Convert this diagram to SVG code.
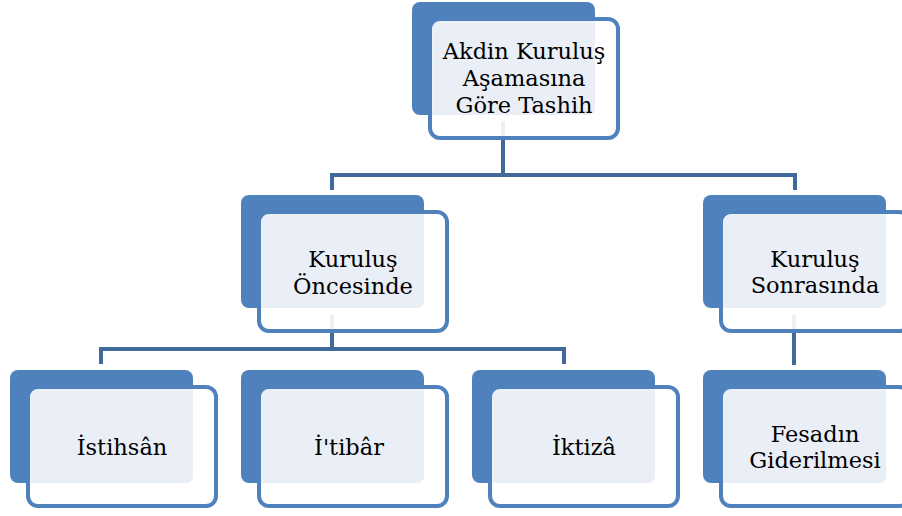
<svg xmlns="http://www.w3.org/2000/svg" xmlns:xlink="http://www.w3.org/1999/xlink" width="902" height="516" viewBox="0 0 902 516">
<style>
.back{fill:#4F81BD}
.front{fill:#FFFFFF;fill-opacity:0.9;stroke:#4F81BD;stroke-width:4}
.light{fill:#EAEFF7}
.conn{fill:none;stroke:#41699B;stroke-width:4}
text{font-family:"DejaVu Serif","Liberation Serif",serif;font-size:22.5px;fill:#000;text-anchor:middle}
</style>
<defs>
<g id="card">
<rect class="back" x="0" y="0" width="183" height="113" rx="8"/>
<rect class="front" x="18" y="17" width="188" height="119" rx="10"/>
<path class="light" d="M28,20 H183 V106 A7,7 0 0 1 176,113 H21 V27 A7,7 0 0 1 28,20 Z"/>
</g>
</defs>
<rect width="902" height="516" fill="#FFFFFF"/>
<g id="connectors">
<path class="conn" d="M503,122 V175"/>
<path class="conn" d="M332,190 V175 H795 V190"/>
<path class="conn" d="M332,315 V349"/>
<path class="conn" d="M101,364 V349 H564 V364"/>
<path class="conn" d="M794,315 V365"/>
</g>
<g id="node-root">
<use xlink:href="#card" x="412" y="2"/>
<text x="524" y="59">Akdin Kuruluş</text>
<text x="524" y="86">Aşamasına</text>
<text x="524" y="113">Göre Tashih</text>
</g>
<g id="node-oncesinde">
<use xlink:href="#card" x="241" y="195"/>
<text x="353" y="267">Kuruluş</text>
<text x="353" y="294">Öncesinde</text>
</g>
<g id="node-sonrasinda">
<use xlink:href="#card" x="703" y="195"/>
<text x="815" y="267">Kuruluş</text>
<text x="815" y="293">Sonrasında</text>
</g>
<g id="node-istihsan">
<use xlink:href="#card" x="10" y="370"/>
<text x="122" y="455">İstihsân</text>
</g>
<g id="node-itibar">
<use xlink:href="#card" x="241" y="370"/>
<text x="349" y="455">İ'tibâr</text>
</g>
<g id="node-iktiza">
<use xlink:href="#card" x="472" y="370"/>
<text x="584" y="455">İktizâ</text>
</g>
<g id="node-fesadin">
<use xlink:href="#card" x="703" y="370"/>
<text x="815" y="442">Fesadın</text>
<text x="815" y="468">Giderilmesi</text>
</g>
</svg>
